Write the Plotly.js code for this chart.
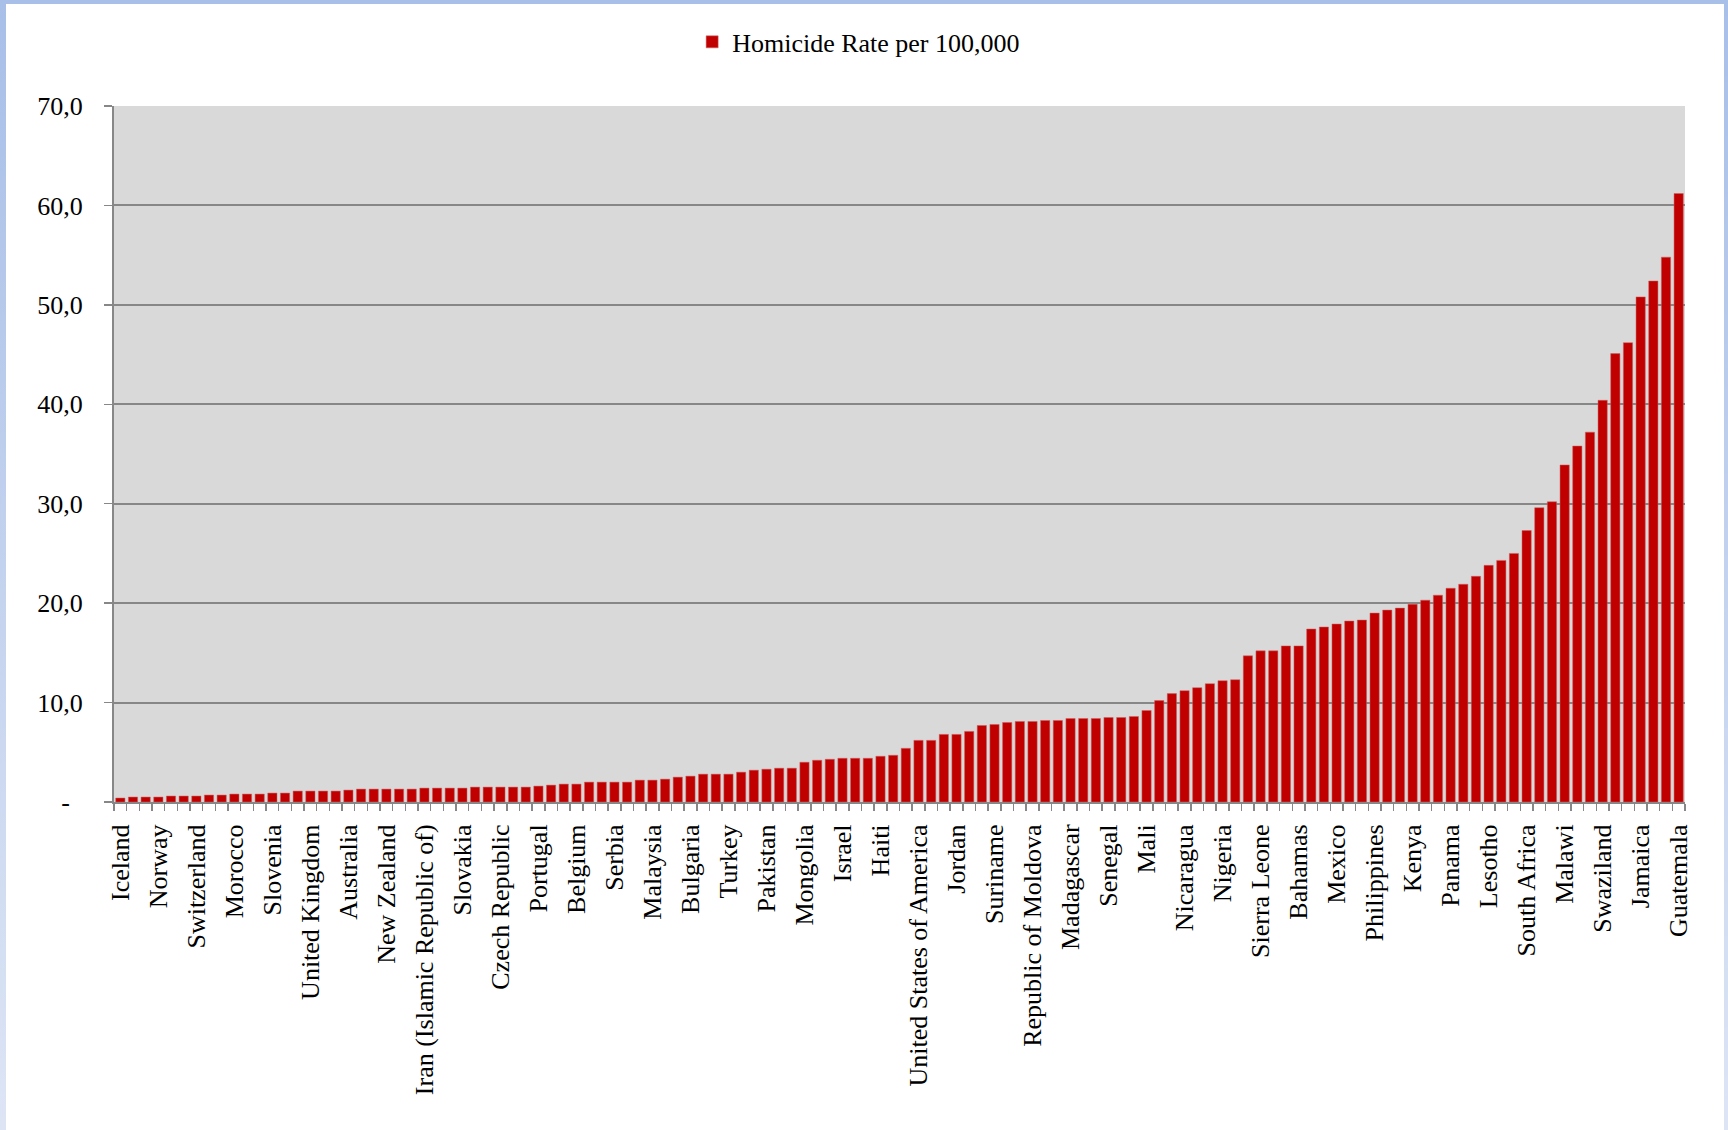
<!DOCTYPE html>
<html>
<head>
<meta charset="utf-8">
<script src="https://cdn.plot.ly/plotly-3.0.1.min.js"></script>
<style>
  html, body { margin: 0; padding: 0; }
  #frame {
    position: absolute; left: 0; top: 0; width: 1728px; height: 1130px;
    background: linear-gradient(to bottom, #a8bfe8 0%, #c3d2ee 50%, #dde5f5 100%);
  }
  #inner {
    position: absolute; left: 6px; top: 4px; right: 4px; bottom: 0;
    background: #ffffff;
  }
  #chart { position: absolute; left: 0; top: 0; width: 1728px; height: 1130px; }
</style>
</head>
<body>
<div id="frame"><div id="inner"></div></div>
<div id="chart"></div>
<script>
// Tick labels shown on the x axis (every third country)
const labels = [
  "Iceland", "Norway", "Switzerland", "Morocco", "Slovenia", "United Kingdom",
  "Australia", "New Zealand", "Iran (Islamic Republic of)", "Slovakia",
  "Czech Republic", "Portugal", "Belgium", "Serbia", "Malaysia", "Bulgaria",
  "Turkey", "Pakistan", "Mongolia", "Israel", "Haiti", "United States of America",
  "Jordan", "Suriname", "Republic of Moldova", "Madagascar", "Senegal", "Mali",
  "Nicaragua", "Nigeria", "Sierra Leone", "Bahamas", "Mexico", "Philippines",
  "Kenya", "Panama", "Lesotho", "South Africa", "Malawi", "Swaziland",
  "Jamaica", "Guatemala"
];

// Homicide rate per 100,000 for each of the 124 countries (sorted ascending)
const rates = [
  0.4, 0.5, 0.5, 0.5, 0.6, 0.6, 0.6, 0.7, 0.7, 0.8,
  0.8, 0.8, 0.9, 0.9, 1.1, 1.1, 1.1, 1.1, 1.2, 1.3,
  1.3, 1.3, 1.3, 1.3, 1.4, 1.4, 1.4, 1.4, 1.5, 1.5,
  1.5, 1.5, 1.5, 1.6, 1.7, 1.8, 1.8, 2.0, 2.0, 2.0,
  2.0, 2.2, 2.2, 2.3, 2.5, 2.6, 2.8, 2.8, 2.8, 3.0,
  3.2, 3.3, 3.4, 3.4, 4.0, 4.2, 4.3, 4.4, 4.4, 4.4,
  4.6, 4.7, 5.4, 6.2, 6.2, 6.8, 6.8, 7.1, 7.7, 7.8,
  8.0, 8.1, 8.1, 8.2, 8.2, 8.4, 8.4, 8.4, 8.5, 8.5,
  8.6, 9.2, 10.2, 10.9, 11.2, 11.5, 11.9, 12.2, 12.3, 14.7,
  15.2, 15.2, 15.7, 15.7, 17.4, 17.6, 17.9, 18.2, 18.3, 19.0,
  19.3, 19.5, 19.9, 20.3, 20.8, 21.5, 21.9, 22.7, 23.8, 24.3,
  25.0, 27.3, 29.6, 30.2, 33.9, 35.8, 37.2, 40.4, 45.1, 46.2,
  50.8, 52.4, 54.8, 61.2
];

const labelEvery = 3;
const yTicks = [0, 10, 20, 30, 40, 50, 60, 70];
const yTickText = ["-\u00a0\u00a0", "10,0", "20,0", "30,0", "40,0", "50,0", "60,0", "70,0"];

const xs = rates.map((_, i) => i + 1);
const xTickVals = labels.map((_, k) => 1 + k * labelEvery);

const font = "Liberation Serif, Times New Roman, serif";
const axisGray = "#878787";

const trace = {
  type: "bar",
  x: xs,
  y: rates,
  name: "Homicide Rate per 100,000",
  marker: { color: "#c00000", line: { color: "#d06060", width: 0.5 } },
  hoverinfo: "y"
};

const layout = {
  width: 1728,
  height: 1130,
  paper_bgcolor: "rgba(0,0,0,0)",
  plot_bgcolor: "#d9d9d9",
  margin: { l: 114, r: 43, t: 106, b: 328 },
  font: { family: font, size: 26, color: "#000" },
  bargap: 0.27,
  showlegend: true,
  legend: {
    orientation: "h",
    x: 0.474, xanchor: "center",
    y: 1.092, yanchor: "middle",
    font: { family: font, size: 26, color: "#000" },
    bgcolor: "rgba(0,0,0,0)"
  },
  xaxis: {
    range: [0.5, rates.length + 0.5],
    tickmode: "array",
    tickvals: xTickVals,
    ticktext: labels,
    tickangle: -90,
    ticks: "",
    ticklabelstandoff: 10,
    showgrid: false,
    zeroline: false,
    showline: true,
    linecolor: axisGray,
    linewidth: 2,
    tickfont: { family: font, size: 26, color: "#000" },
    minor: {
      tickmode: "linear",
      tick0: 0.5,
      dtick: 1,
      ticks: "outside",
      ticklen: 7,
      tickwidth: 1.5,
      tickcolor: axisGray,
      showgrid: false
    },
    fixedrange: true
  },
  yaxis: {
    range: [0, 70],
    tickmode: "array",
    tickvals: yTicks,
    ticktext: yTickText,
    ticks: "outside",
    ticklen: 8,
    tickwidth: 1.5,
    tickcolor: axisGray,
    ticklabelstandoff: 16,
    showgrid: true,
    gridcolor: axisGray,
    gridwidth: 2,
    zeroline: false,
    showline: true,
    linecolor: axisGray,
    linewidth: 2,
    tickfont: { family: font, size: 26, color: "#000" },
    fixedrange: true
  }
};

Plotly.newPlot("chart", [trace], layout, { displayModeBar: false, staticPlot: true });
</script>
</body>
</html>
